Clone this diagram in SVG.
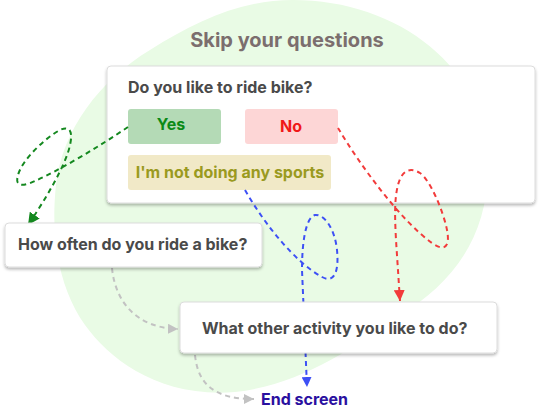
<svg xmlns="http://www.w3.org/2000/svg" width="540" height="409" viewBox="0 0 540 409">
  <defs>
    <filter id="shadow" x="-10%" y="-20%" width="120%" height="150%">
      <feDropShadow dx="0" dy="2" stdDeviation="1.6" flood-color="#000" flood-opacity="0.28"/>
    </filter>
    <marker id="ah-green" markerUnits="userSpaceOnUse" markerWidth="12" markerHeight="12" refX="10" refY="5" orient="auto" viewBox="0 0 10 10">
      <path d="M0,0 L10,5 L0,10 z" fill="#14881f"/>
    </marker>
    <marker id="ah-blue" markerUnits="userSpaceOnUse" markerWidth="10" markerHeight="10" refX="10" refY="5" orient="auto" viewBox="0 0 10 10">
      <path d="M0,0 L10,5 L0,10 z" fill="#3d50f5"/>
    </marker>
    <marker id="ah-red" markerUnits="userSpaceOnUse" markerWidth="11" markerHeight="11" refX="10" refY="5" orient="auto" viewBox="0 0 10 10">
      <path d="M0,0 L10,5 L0,10 z" fill="#f23b3b"/>
    </marker>
    <marker id="ah-gray" markerUnits="userSpaceOnUse" markerWidth="10" markerHeight="10" refX="10" refY="5" orient="auto" viewBox="0 0 10 10">
      <path d="M0,0 L10,5 L0,10 z" fill="#c2c2c2"/>
    </marker>
  </defs>
  <style>
    text { font-family: Inter, "Liberation Sans", Arial, sans-serif; font-weight: 700; }
    .card { fill: #ffffff; stroke: #dcdcdc; stroke-width: 1; filter: url(#shadow); }
    .q { font-size: 16px; fill: #4a4a4a; }
    .btn { font-size: 16px; text-anchor: middle; }
    .conn { fill: none; stroke-width: 2; stroke-dasharray: 5 4; }
  </style>

  <path id="blob" d="M293,0 C400,0 490,70 488,170 C487,240 450,285 400,315 C350,350 300,385 235,392 C160,398 110,360 85,325 C60,290 50,240 56,185 C62,130 100,80 150,50 C195,22 240,0 293,0 Z" fill="#e9fbe5"/>

  <text id="title" x="287" y="47" font-size="20" fill="#7b6e6e" text-anchor="middle">Skip your questions</text>

  <g id="question-card">
    <rect class="card" x="107" y="66" width="428" height="137" rx="4"/>
    <text class="q" x="128" y="93">Do you like to ride bike?</text>
    <g id="btn-yes">
      <rect x="128" y="109" width="93" height="35" rx="3" fill="#b4dab6"/>
      <text class="btn" x="171" y="130" fill="#0b8a16">Yes</text>
    </g>
    <g id="btn-no">
      <rect x="245" y="109" width="93" height="35" rx="3" fill="#fdd6d6"/>
      <text class="btn" x="291" y="132" fill="#f01818">No</text>
    </g>
    <g id="btn-sports">
      <rect x="128" y="155" width="203" height="35" rx="3" fill="#f1e9c7"/>
      <text class="btn" x="230" y="178" fill="#9a9a1f">I'm not doing any sports</text>
    </g>
  </g>

  <g id="connectors">
    <path class="conn" stroke="#14881f" marker-end="url(#ah-green)" d="M128,127 C100,146 60,170 35,181 C20,188 15,185 18,175 C22,160 45,138 60,130 C70,125 73,132 70,145 C66,165 45,200 28,225"/>
    <path class="conn" stroke="#3d50f5" marker-end="url(#ah-blue)" d="M245,190 C265,225 295,262 322,277 C335,284 339,270 337,250 C335,230 325,214 315,215 C305,218 302,245 302,270 L307,387"/>
    <path class="conn" stroke="#f23b3b" marker-end="url(#ah-red)" d="M338,128 C360,165 400,220 432,243 C446,253 450,245 447,230 C443,210 430,180 420,173 C410,167 402,170 398,185 C394,200 395,220 396,240 L400,301"/>
    <path class="conn" stroke="#c2c2c2" marker-end="url(#ah-gray)" d="M112,268 C115,300 135,328 178,329"/>
    <path class="conn" stroke="#c2c2c2" marker-end="url(#ah-gray)" d="M195,355 C198,385 215,399 254,399"/>
  </g>

  <g id="how-often">
    <rect class="card" x="5" y="223" width="257" height="44" rx="4"/>
    <text class="q" x="18" y="250">How often do you ride a bike?</text>
  </g>

  <g id="other-activity">
    <rect class="card" x="180" y="302" width="317" height="51" rx="4"/>
    <text class="q" x="202" y="334">What other activity you like to do?</text>
  </g>

  <g id="end-screen">
    <text x="261" y="405" font-size="16" fill="#2a10a0">End screen</text>
  </g>
</svg>
